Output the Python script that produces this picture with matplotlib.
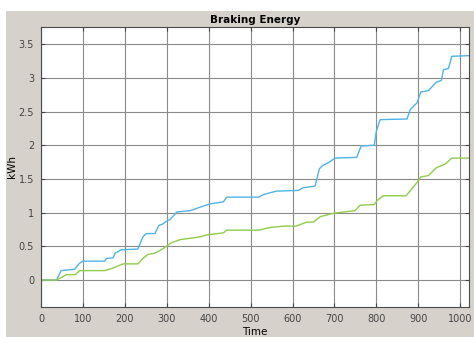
import numpy as np
import matplotlib
matplotlib.use('Agg')
import matplotlib.pyplot as plt
from matplotlib.patches import Rectangle

# blue curve (time, kWh)
time_blue = [0, 37, 48, 80, 92, 100, 152, 156, 172, 177, 192, 231, 243, 251, 272, 281,
             290, 299, 308, 324, 356, 379, 403, 435, 443, 519, 531, 562, 614, 626, 650,
             654, 664, 672, 685, 702, 753, 764, 795, 800, 809, 873, 881, 897, 906, 924,
             944, 955, 960, 972, 980, 1021]
energy_blue = [0, 0, 0.14, 0.16, 0.25, 0.28, 0.28, 0.32, 0.33, 0.40, 0.45, 0.46, 0.64, 0.69, 0.69, 0.81,
               0.83, 0.87, 0.90, 1.01, 1.03, 1.08, 1.13, 1.16, 1.23, 1.23, 1.27, 1.32, 1.33, 1.37, 1.39,
               1.40, 1.65, 1.70, 1.74, 1.81, 1.82, 1.99, 2.00, 2.21, 2.38, 2.39, 2.53, 2.63, 2.79, 2.81,
               2.94, 2.96, 3.12, 3.14, 3.32, 3.33]

# green curve (time, kWh)
time_green = [0, 37, 52, 60, 82, 92, 152, 168, 184, 196, 231, 243, 255, 272, 287, 299, 310,
              332, 356, 379, 395, 435, 443, 519, 547, 578, 609, 634, 650, 666, 697, 749,
              761, 795, 802, 816, 871, 884, 900, 906, 924, 944, 964, 980, 1021]
energy_green = [0, 0, 0.05, 0.08, 0.08, 0.14, 0.14, 0.17, 0.21, 0.24, 0.24, 0.32, 0.38, 0.40, 0.45, 0.50, 0.55,
                0.60, 0.62, 0.64, 0.67, 0.70, 0.74, 0.74, 0.78, 0.80, 0.80, 0.86, 0.86, 0.94, 0.99, 1.03,
                1.11, 1.12, 1.18, 1.25, 1.25, 1.35, 1.47, 1.53, 1.55, 1.67, 1.72, 1.81, 1.81]

x_ticks = [0, 100, 200, 300, 400, 500, 600, 700, 800, 900, 1000]
y_ticks = [0, 0.5, 1, 1.5, 2, 2.5, 3, 3.5]
y_labels = ['0', '0.5', '1', '1.5', '2', '2.5', '3', '3.5']

fig = plt.figure(figsize=(4.74, 3.37), dpi=100)
fig.patch.set_facecolor('white')
# gray window background (white strip top and left)
fig.patches.append(Rectangle((6 / 474, 0), 1, 1 - 11 / 337, transform=fig.transFigure,
                             facecolor='#d6d2cb', edgecolor='none', zorder=-1))

ax = fig.add_axes([41 / 474, 1 - 307 / 337, (469 - 41) / 474, (307 - 27) / 337])
ax.set_facecolor('white')

ax.plot(time_blue, energy_blue, color='#4fb3e8', linewidth=1.0)
ax.plot(time_green, energy_green, color='#8fcb4c', linewidth=1.0)

ax.set_xlim(0, 1021)
ax.set_ylim(-0.4, 3.755)
ax.set_xticks(x_ticks)
ax.set_yticks(y_ticks)
ax.set_yticklabels(y_labels)
ax.grid(True, color='#8a8a8a', linewidth=0.8)
ax.set_axisbelow(True)
ax.tick_params(direction='in', length=3, labelsize=7, colors='#444444',
               top=True, right=True, pad=5)
for s in ax.spines.values():
    s.set_color('#4a4a4a')
    s.set_linewidth(0.8)

ax.set_title('Braking Energy', fontsize=7.5, fontweight='bold', pad=3)
ax.set_xlabel('Time', fontsize=7.5, labelpad=2)
ax.set_ylabel('kWh', fontsize=7.5, labelpad=1)

fig.savefig('out.png', dpi=100)
